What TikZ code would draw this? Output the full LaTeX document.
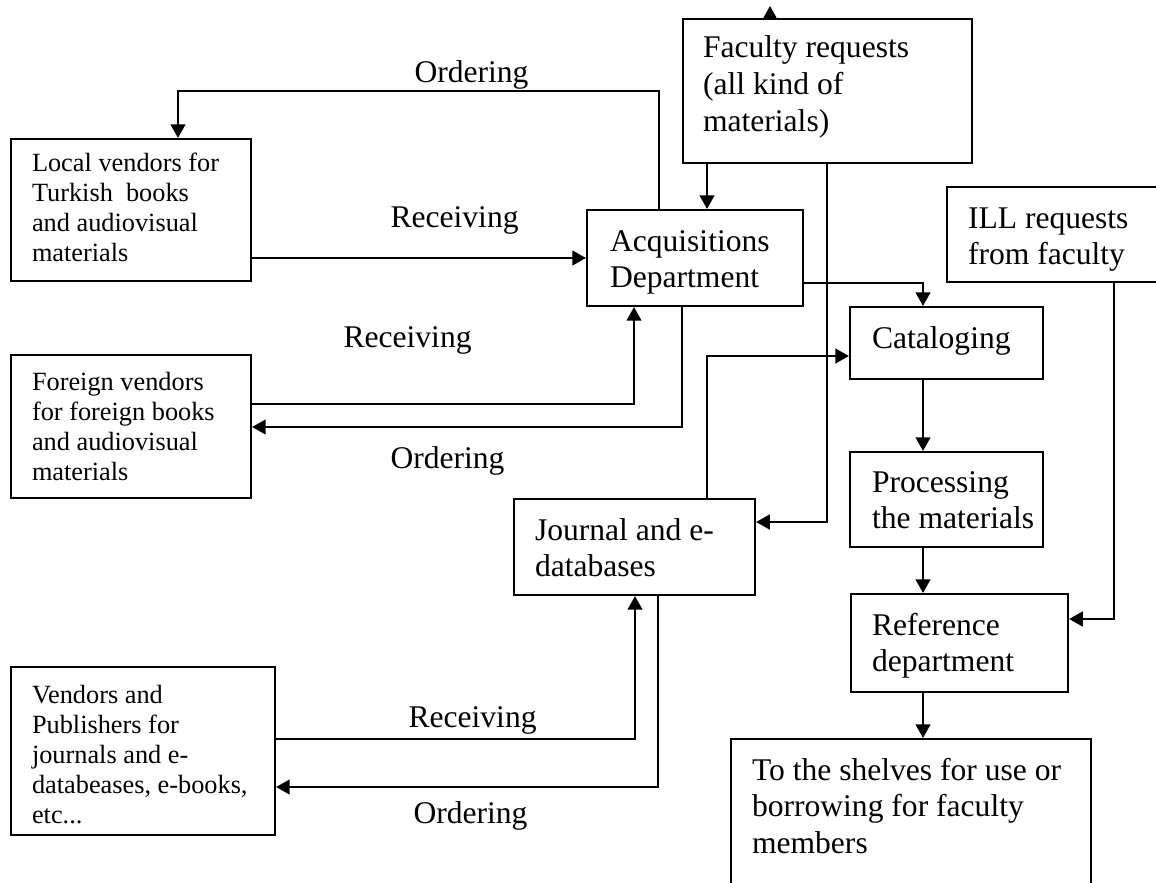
\documentclass[tikz,border=0pt]{standalone}
\usepackage{fontspec}
\setmainfont{Liberation Serif}
\usetikzlibrary{arrows.meta,fit}

% text blocks whose anchor is the baseline of their first line
\newcommand{\bigtext}[1]{\fontsize{12}{14}\selectfont\begin{tabular}[t]{@{}l@{}}#1\end{tabular}}
\newcommand{\smalltext}[1]{\fontsize{10}{11.4}\selectfont\begin{tabular}[t]{@{}l@{}}#1\end{tabular}}

\tikzset{
  box/.style={draw, line width=0.8pt, inner sep=0pt},
  txt/.style={anchor=base west, inner sep=0pt, outer sep=0pt},
  lbl/.style={anchor=base west, inner sep=0pt, font=\fontsize{12}{14}\selectfont},
  arr/.style={line width=0.8pt, -{Triangle[length=5.2pt,width=5.6pt]}}
}

\begin{document}
\begin{tikzpicture}[x=0.38pt, y=-0.38pt]
\clip (0,0) rectangle (1156,882);

% ---- boxes ----
\node[box, fit={(11,139)(251,281)}]   (loc)  {};
\node[box, fit={(11,355)(251,498)}]   (for)  {};
\node[box, fit={(11,667)(275,835)}]   (vp)   {};
\node[box, fit={(587,210)(803,306)}]  (acq)  {};
\node[box, fit={(683,19)(972,163)}]   (fac)  {};
\node[box, fit={(947,187)(1162,282)}] (ill)  {};
\node[box, fit={(850,307)(1043,379)}] (cat)  {};
\node[box, fit={(850,452)(1043,547)}] (proc) {};
\node[box, fit={(851,594)(1068,692)}] (ref)  {};
\node[box, fit={(514,499)(755,595)}]  (jour) {};
\node[box, fit={(731,739)(1091,900)}] (shelf){};

% ---- box texts ----
\node[txt] (locT)  at (32,172)  {\smalltext{Local vendors for\\Turkish\ \ books\\and audiovisual\\materials}};
\node[txt] (forT)  at (32,390)  {\smalltext{Foreign vendors\\for foreign books\\and audiovisual\\materials}};
\node[txt] (vpT)   at (32,703)  {\smalltext{Vendors and\\Publishers for\\journals and e-\\databeases, e-books,\\etc...}};
\node[txt] (acqT)  at (610,251) {\bigtext{Acquisitions\\Department}};
\node[txt] (facT)  at (703,58)  {\bigtext{Faculty requests\\(all kind of\\materials)}};
\node[txt] (illT)  at (968,228) {\bigtext{ILL requests\\from faculty}};
\node[txt] (catT)  at (872,348) {\bigtext{Cataloging}};
\node[txt] (procT) at (872,492) {\bigtext{Processing\\the materials}};
\node[txt] (refT)  at (872,635) {\bigtext{Reference\\department}};
\node[txt] (jourT) at (535,540) {\bigtext{Journal and e-\\databases}};
\node[txt] (shelfT) at (752,780) {\bigtext{To the shelves for use or\\borrowing for faculty\\members}};

% ---- connector labels ----
\node[lbl] (ordA) at (414,83)  {Ordering};
\node[lbl] (recA) at (390,227) {Receiving};
\node[lbl] (recB) at (343,347) {Receiving};
\node[lbl] (ordB) at (390,468) {Ordering};
\node[lbl] (recC) at (408,727) {Receiving};
\node[lbl] (ordC) at (413,823) {Ordering};

% ---- routing points ----
\coordinate (o1) at (659,91);
\coordinate (o2) at (178,91);
\coordinate (fx) at (707,190);
\coordinate (fj) at (827,522);
\coordinate (ft) at (770,6);
\coordinate (r1) at (400,258);
\coordinate (c1) at (923,283);
\coordinate (j1) at (707,356);
\coordinate (r2) at (634,404);
\coordinate (o3) at (682,427);
\coordinate (vx) at (923,500);
\coordinate (i1) at (1114,619);
\coordinate (r3) at (635,739);
\coordinate (o4) at (658,787);

% ---- connectors ----
\draw[arr] (o1 |- acq.north) -- (o1) -- (o2) -- (o2 |- loc.north);
\draw[arr] (fx |- fac.south) -- (fx |- acq.north);
\draw[arr] (fj |- fac.south) -- (fj) -- (fj -| jour.east);
\draw[arr] (ft |- fac.north) -- (ft);
\draw[arr] (r1 -| loc.east) -- (r1 -| acq.west);
\draw[arr] (c1 -| acq.east) -- (c1) -- (c1 |- cat.north);
\draw[arr] (j1 |- jour.north) -- (j1) -- (j1 -| cat.west);
\draw[arr] (r2 -| for.east) -- (r2) -- (r2 |- acq.south);
\draw[arr] (o3 |- acq.south) -- (o3) -- (o3 -| for.east);
\draw[arr] (vx |- cat.south) -- (vx |- proc.north);
\draw[arr] (vx |- proc.south) -- (vx |- ref.north);
\draw[arr] (vx |- ref.south) -- (vx |- shelf.north);
\draw[arr] (i1 |- ill.south) -- (i1) -- (i1 -| ref.east);
\draw[arr] (r3 -| vp.east) -- (r3) -- (r3 |- jour.south);
\draw[arr] (o4 |- jour.south) -- (o4) -- (o4 -| vp.east);
\end{tikzpicture}
\end{document}
